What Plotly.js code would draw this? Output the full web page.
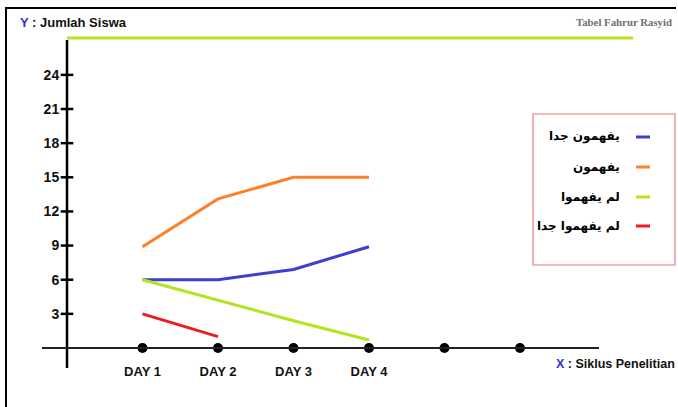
<!DOCTYPE html>
<html>
<head>
<meta charset="utf-8">
<script src="https://cdn.plot.ly/plotly-3.0.1.min.js"></script>
<style>html,body{margin:0;padding:0;background:#fff;}#chart{width:678px;height:407px;}</style>
</head>
<body>
<div id="chart"></div>
<script>
// ---- data ----
const days = [1, 2, 3, 4];
const dayLabels = ['DAY 1', 'DAY 2', 'DAY 3', 'DAY 4'];
const axisDots = [1, 2, 3, 4, 5, 6];
const yTicks = [3, 6, 9, 12, 15, 18, 21, 24];
const seriesNames = ['يفهمون جدا', 'يفهمون', 'لم يفهموا', 'لم يفهموا جدا'];
const seriesColors = ['#3b3fd2', '#ff7f2a', '#b4e41e', '#ec1c24'];
const understandVery = [6, 6, 6.9, 8.9];
const understand = [8.9, 13.1, 15, 15];
const notUnderstand = [6, 4.2, 2.4, 0.7];
const notUnderstandVery = [3, 1.0];
const seriesValues = [understandVery, understand, notUnderstand, notUnderstandVery];

// ---- geometry (pixels) ----
const W = 678, H = 407;
const x0px = 67, xStep = 75.5;   // x=0 at 67px
const y0px = 348, yStep = 11.38; // y=0 at 348px
const xr = [(0 - x0px) / xStep, (W - x0px) / xStep];
const yr = [-(H - y0px) / yStep, y0px / yStep];
const px = v => v / W;
const py = v => 1 - v / H;

const traces = seriesValues.map((vals, i) => ({
  type: 'scatter', mode: 'lines',
  x: days.slice(0, vals.length), y: vals,
  line: {color: seriesColors[i], width: 3},
  showlegend: false, hoverinfo: 'skip'
}));

// y-axis cross ticks
traces.push({
  type: 'scatter', mode: 'markers',
  x: yTicks.map(() => 0), y: yTicks,
  marker: {symbol: 'line-ew-open', size: 9, color: '#000', line: {color: '#000', width: 2.5}},
  showlegend: false, hoverinfo: 'skip'
});
// x-axis dots
traces.push({
  type: 'scatter', mode: 'markers',
  x: axisDots, y: axisDots.map(() => 0),
  marker: {symbol: 'circle', size: 10, color: '#000'},
  showlegend: false, hoverinfo: 'skip'
});

const shapes = [
  // frame
  {type: 'line', xref: 'paper', yref: 'paper', x0: px(5), x1: px(676), y0: py(8), y1: py(8), line: {color: '#000', width: 2}},
  {type: 'line', xref: 'paper', yref: 'paper', x0: px(6), x1: px(6), y0: py(8), y1: py(407), line: {color: '#000', width: 2}},
  // top green line
  {type: 'line', xref: 'paper', yref: 'paper', x0: px(67), x1: px(633), y0: py(38), y1: py(38), line: {color: '#b4e41e', width: 3}},
  // axes
  {type: 'line', xref: 'paper', yref: 'paper', x0: px(67), x1: px(67), y0: py(40), y1: py(368), line: {color: '#000', width: 2.5}},
  {type: 'line', xref: 'paper', yref: 'paper', x0: px(42), x1: px(599), y0: py(348), y1: py(348), line: {color: '#222', width: 2}},
  // legend box
  {type: 'rect', xref: 'paper', yref: 'paper', x0: px(533), x1: px(675), y0: py(114), y1: py(265), line: {color: '#ec7b7f', width: 1.2}, fillcolor: 'rgba(0,0,0,0)'}
];

const annotations = [
  {xref: 'paper', yref: 'paper', x: px(18), y: py(22), xanchor: 'left', yanchor: 'middle', showarrow: false,
   text: '<span style="color:#3333cc">Y</span> : Jumlah Siswa',
   font: {family: 'Liberation Sans, Arial', size: 13, color: '#111', weight: 'bold'}},
  {xref: 'paper', yref: 'paper', x: px(674), y: py(22), xanchor: 'right', yanchor: 'middle', showarrow: false,
   text: 'Tabel Fahrur Rasyid',
   font: {family: 'Liberation Serif, Times New Roman', size: 10.8, color: '#6f6f6f', weight: 'bold'}},
  {xref: 'paper', yref: 'paper', x: px(677), y: py(364), xanchor: 'right', yanchor: 'middle', showarrow: false,
   text: '<span style="color:#3333cc">X</span> : Siklus Penelitian',
   font: {family: 'Liberation Sans, Arial', size: 12.5, color: '#111', weight: 'bold'}}
];

const legendY = [137, 167, 197, 226];
seriesNames.forEach((name, i) => {
  annotations.push({xref: 'paper', yref: 'paper', x: px(622), y: py(legendY[i]), xanchor: 'right', yanchor: 'middle', showarrow: false,
    text: name, font: {family: 'DejaVu Sans', size: 12, color: '#000', weight: 'bold'}});
  shapes.push({type: 'line', xref: 'paper', yref: 'paper', x0: px(636), x1: px(650), y0: py(legendY[i]), y1: py(legendY[i]),
    line: {color: seriesColors[i], width: 3}});
});

const layout = {
  width: W, height: H,
  margin: {l: 0, r: 0, t: 0, b: 0},
  paper_bgcolor: '#fff', plot_bgcolor: 'rgba(0,0,0,0)',
  showlegend: false,
  xaxis: {range: xr, showgrid: false, zeroline: false, showline: false,
    anchor: 'free', position: 1 - y0px / H,
    tickmode: 'array', tickvals: days, ticktext: dayLabels,
    ticks: 'outside', ticklen: 11, tickcolor: 'rgba(0,0,0,0)',
    tickfont: {family: 'Liberation Sans, Arial', size: 13, color: '#111', weight: 'bold'}},
  yaxis: {range: yr, showgrid: false, zeroline: false, showline: false,
    anchor: 'free', position: x0px / W,
    tickmode: 'array', tickvals: yTicks,
    ticks: 'outside', ticklen: 5, tickcolor: 'rgba(0,0,0,0)',
    tickfont: {family: 'Liberation Sans, Arial', size: 14, color: '#111', weight: 'bold'}},
  shapes: shapes,
  annotations: annotations
};

Plotly.newPlot('chart', traces, layout, {staticPlot: true, displayModeBar: false});
</script>
</body>
</html>
